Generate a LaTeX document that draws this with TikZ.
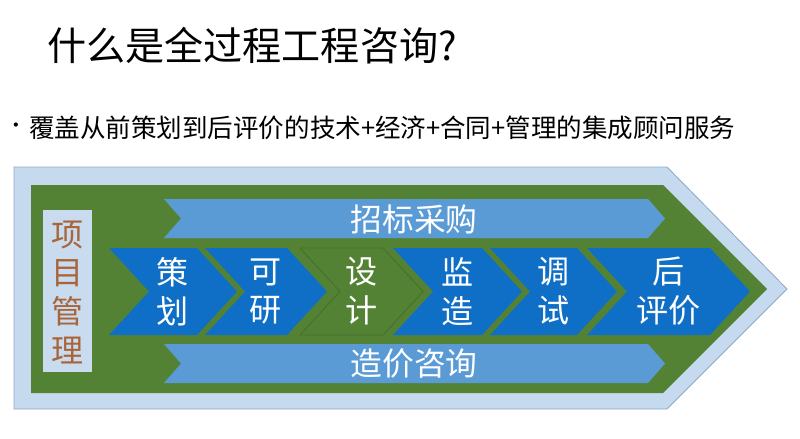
\documentclass[tikz,border=0pt]{standalone}
\usepackage{fontspec}
\setmainfont{Noto Sans CJK SC}
\usetikzlibrary{calc}
\definecolor{frameblue}{HTML}{C6DAEF}
\definecolor{frameedge}{HTML}{8EA8C6}
\definecolor{pmgreen}{HTML}{548235}
\definecolor{stageblue}{HTML}{0F6FC6}
\definecolor{bandblue}{HTML}{5B9BD5}
\definecolor{pmbrown}{HTML}{A9653A}
\definecolor{pmbox}{HTML}{C9DCEF}

\begin{document}
\begin{tikzpicture}[x=0.025cm,y=-0.025cm,
	stage/.style={fill=stageblue},
	stagealt/.style={fill=pmgreen,draw=pmgreen!85!black,line width=0.6pt},
	stagetext/.style={text=white,inner sep=0pt,align=center,font=\fontsize{22.8}{27.7}\selectfont},
	bandtext/.style={text=white,inner sep=0pt,font=\fontsize{22.6}{27}\selectfont}]
	\useasboundingbox (0,0) rectangle (800,439);
	\node (title) [anchor=west,inner sep=0pt,font=\fontsize{27.8}{30}\selectfont] at (47,46) {什么是全过程工程咨询?};
	\node (dot) [inner sep=0pt,font=\fontsize{14}{16}\selectfont] at (16,128) {•};
	\node (scope) [anchor=west,inner sep=0pt,font=\fontsize{18.15}{20}\selectfont] at (29,128) {覆盖从前策划到后评价的技术+经济+合同+管理的集成顾问服务};
	\draw[fill=frameblue,draw=frameedge,line width=0.6pt] (14,167) -- (667,167) -- (787,289) -- (667,409) -- (14,409) -- cycle;
	\fill[pmgreen] (31,185) -- (663,185) -- (767,289) -- (663,393) -- (31,393) -- cycle;
	\fill[pmbox] (43,210) rectangle (92,372);
	\node (pm) [text=pmbrown,inner sep=0pt,align=center,font=\fontsize{22.8}{27.5}\selectfont] at (67.5,292) {项\\目\\管\\理};
	\fill[bandblue] (164,199) -- (648,199) -- (665,218.5) -- (648,238) -- (164,238) -- (181,218.5) -- cycle;
	\node (bid) [bandtext] at (414,219) {招标采购};
	\fill[bandblue] (164,344) -- (648,344) -- (665,363.5) -- (648,383) -- (164,383) -- (181,363.5) -- cycle;
	\node (cost) [bandtext] at (414,364) {造价咨询};
	\foreach \xl/\xr/\sty/\name/\txt in {109/197/stage/plan/{策\\划},205/287/stage/study/{可\\研},300/383/stagealt/design/{设\\计},393/482/stage/build/{监\\造},490/577/stage/test/{调\\试},587/710/stage/review/{后\\评价}}{
		\path[\sty] (\xl,248) -- (\xr,248) -- (\xr+40,291.5) -- (\xr,335) -- (\xl,335) -- (\xl+40,291.5) -- cycle;
		\node (\name) [stagetext] at ({(\xl+\xr)/2+20},291.5) {\txt};
	}
\end{tikzpicture}
\end{document}
